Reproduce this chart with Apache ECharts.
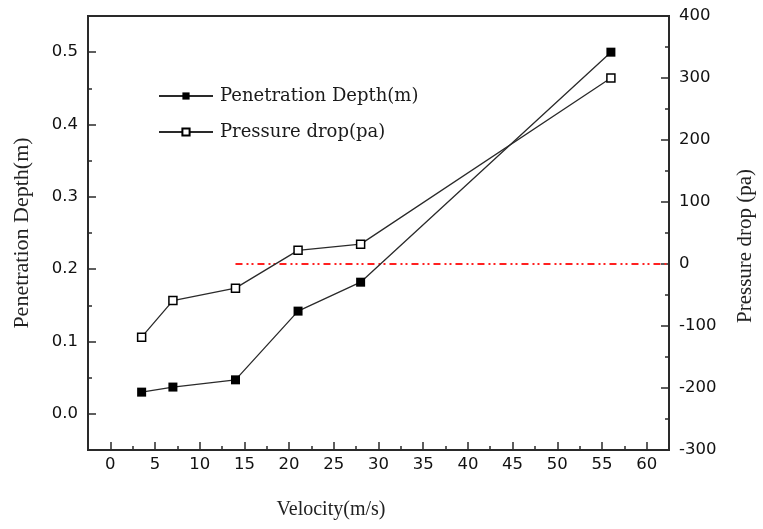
<!DOCTYPE html>
<html>
<head>
<meta charset="utf-8">
<script src="https://cdn.jsdelivr.net/npm/echarts@6/dist/echarts.min.js"></script>
<style>html,body{margin:0;padding:0;background:#fff;}#c{width:763px;height:529px;}</style>
</head>
<body>
<div id="c"></div>
<script>
// ---- data ----
const velocity = [3.5, 7, 14, 21, 28, 56];
const penetrationDepth = [0.030, 0.037, 0.047, 0.142, 0.182, 0.500];
const pressureDrop = [-118, -59, -39, 22, 32, 300];
const zeroLineX = [14, 62.5];
const zeroLineY = [0, 0];
const xMajorTicks = [0, 5, 10, 15, 20, 25, 30, 35, 40, 45, 50, 55, 60];
const xMinorTicks = [2.5, 7.5, 12.5, 17.5, 22.5, 27.5, 32.5, 37.5, 42.5, 47.5, 52.5, 57.5];
const depthTicks = [0, 0.1, 0.2, 0.3, 0.4, 0.5];
const depthMinorTicks = [0.05, 0.15, 0.25, 0.35, 0.45];
const seriesNames = ['Penetration Depth(m)', 'Pressure drop(pa)'];
const axisTitles = { x: 'Velocity(m/s)', yLeft: 'Penetration Depth(m)', yRight: 'Pressure drop (pa)' };

const chart = echarts.init(document.getElementById('c'), null, { renderer: 'canvas' });
const AX = '#2a2a2a';
const labelStyle = { color: '#111', fontFamily: 'DejaVu Sans, sans-serif', fontSize: 16.5 };
const serif = '"Liberation Serif", "Times New Roman", serif';

const option = {
  backgroundColor: '#fff',
  animation: false,
  grid: { left: 88, right: 94, top: 16, bottom: 79, show: true, borderColor: AX, borderWidth: 2, outerBoundsMode: 'none' },
  legend: {
    orient: 'vertical', left: 153, top: 82, itemWidth: 54, itemHeight: 9, itemGap: 18,
    data: seriesNames,
    textStyle: { fontFamily: 'DejaVu Serif, serif', fontSize: 18, color: '#1a1a1a', padding: [0, 0, 0, 2] }
  },
  xAxis: [
    {
      type: 'value', min: -2.5, max: 62.5, position: 'bottom',
      axisLine: { show: true, onZero: false, lineStyle: { color: AX, width: 2 } },
      axisTick: { show: true, inside: true, length: 8, customValues: xMajorTicks, lineStyle: { color: AX, width: 1.5 } },
      axisLabel: { show: true, customValues: xMajorTicks, margin: 6, ...labelStyle },
      splitLine: { show: false }
    },
    {
      type: 'value', min: -2.5, max: 62.5, position: 'bottom',
      axisLine: { show: false, onZero: false },
      axisTick: { show: true, inside: true, length: 4, customValues: xMinorTicks, lineStyle: { color: AX, width: 1.5 } },
      axisLabel: { show: false },
      splitLine: { show: false }
    }
  ],
  yAxis: [
    {
      type: 'value', min: -0.05, max: 0.55, position: 'left',
      axisLine: { show: true, onZero: false, lineStyle: { color: AX, width: 2 } },
      axisTick: { show: true, inside: true, length: 8, customValues: depthTicks, lineStyle: { color: AX, width: 1.5 } },
      axisLabel: { show: true, customValues: depthTicks, margin: 10, formatter: v => v.toFixed(1), ...labelStyle },
      splitLine: { show: false }
    },
    {
      type: 'value', min: -300, max: 400, interval: 100, position: 'right', alignTicks: false,
      axisLine: { show: true, onZero: false, lineStyle: { color: AX, width: 2 } },
      axisTick: { show: true, inside: true, length: 8, lineStyle: { color: AX, width: 1.5 } },
      minorTick: { show: true, splitNumber: 2, length: 4, lineStyle: { color: AX, width: 1.5 } },
      axisLabel: { show: true, margin: 10, ...labelStyle },
      splitLine: { show: false }, minorSplitLine: { show: false }
    },
    {
      type: 'value', min: -0.05, max: 0.55, position: 'left',
      axisLine: { show: false, onZero: false },
      axisTick: { show: true, inside: true, length: 4, customValues: depthMinorTicks, lineStyle: { color: AX, width: 1.5 } },
      axisLabel: { show: false },
      splitLine: { show: false }
    }
  ],
  graphic: [
    { type: 'text', x: 22, y: 233, rotation: Math.PI / 2,
      style: { text: axisTitles.yLeft, font: '22px ' + serif, fill: '#222', align: 'center', verticalAlign: 'middle', textAlign: 'center', textVerticalAlign: 'middle' } },
    { type: 'text', x: 745, y: 246, rotation: Math.PI / 2,
      style: { text: axisTitles.yRight, font: '21px ' + serif, fill: '#222', align: 'center', verticalAlign: 'middle', textAlign: 'center', textVerticalAlign: 'middle' } },
    { type: 'text', x: 331, y: 510,
      style: { text: axisTitles.x, font: '20px ' + serif, fill: '#222', align: 'center', verticalAlign: 'middle', textAlign: 'center', textVerticalAlign: 'middle' } }
  ],
  series: [
    {
      name: 'zero', type: 'line', xAxisIndex: 0, yAxisIndex: 1,
      data: zeroLineX.map((x, i) => [x, zeroLineY[i]]),
      symbol: 'none', silent: true,
      lineStyle: { color: '#ff2020', width: 2, type: [7, 4, 2, 3, 2, 4] }
    },
    {
      name: seriesNames[0], type: 'line', xAxisIndex: 0, yAxisIndex: 0,
      data: velocity.map((x, i) => [x, penetrationDepth[i]]),
      symbol: 'rect', symbolSize: 9,
      itemStyle: { color: '#000' },
      lineStyle: { color: '#2a2a2a', width: 1.3 }
    },
    {
      name: seriesNames[1], type: 'line', xAxisIndex: 0, yAxisIndex: 1,
      data: velocity.map((x, i) => [x, pressureDrop[i]]),
      symbol: 'rect', symbolSize: 8,
      itemStyle: { color: '#fff', borderColor: '#000', borderWidth: 1.5 },
      lineStyle: { color: '#2a2a2a', width: 1.3 }
    }
  ]
};
chart.setOption(option);
</script>
</body>
</html>
